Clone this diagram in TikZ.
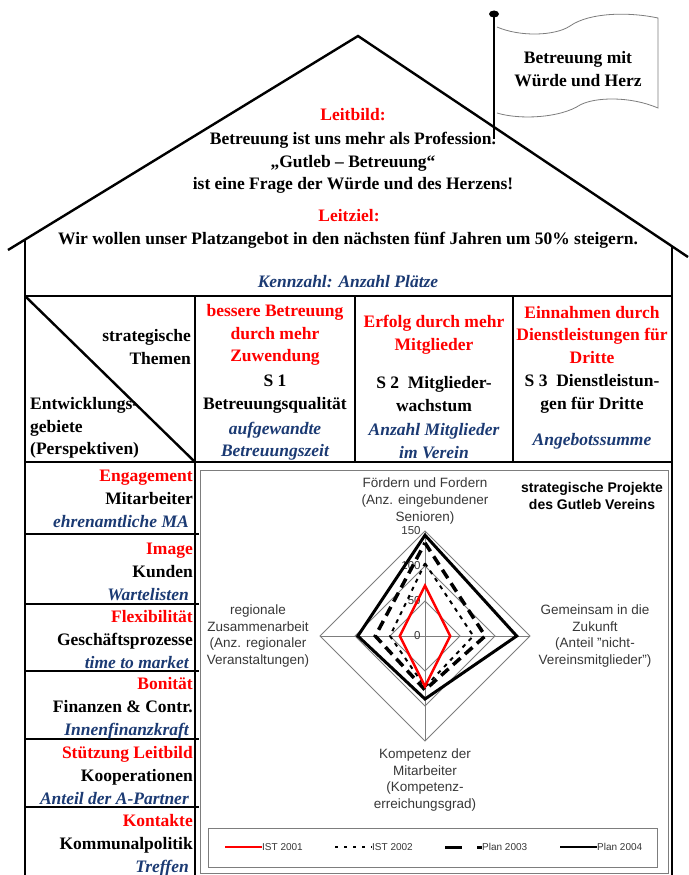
\documentclass[tikz,border=0pt]{standalone}
\usepackage{fontspec}
\setmainfont{Liberation Serif}
\setsansfont{Liberation Sans}
\usetikzlibrary{positioning}
\definecolor{rot}{RGB}{255,0,0}
\definecolor{blau}{RGB}{27,58,115}
\definecolor{grau}{RGB}{55,55,55}
\definecolor{netzgrau}{RGB}{125,125,125}
\tikzset{haus/.style={line width=2.4pt}}
\tikzset{trenn/.style={line width=1.6pt}}
\tikzset{fett/.style={inner sep=0pt,align=center,font=\bfseries\fontsize{17.5}{22.5}\selectfont}}
\tikzset{leit/.style={fett,text=rot}}
\tikzset{kenn/.style={fett,text=blau,font=\bfseries\itshape\fontsize{17.5}{22.5}\selectfont}}
\tikzset{achse/.style={inner sep=0pt,align=center,text=grau,font=\sffamily\fontsize{13.5}{16.5}\selectfont}}
\tikzset{leg/.style={inner sep=0pt,text=grau,font=\sffamily\fontsize{10}{12}\selectfont}}
\tikzset{netz/.style={draw=netzgrau,line width=0.8pt}}
\tikzset{ist1/.style={draw=rot,line width=2.5pt}}
\tikzset{ist2/.style={draw=black,line width=2pt,dash pattern=on 4pt off 5pt}}
\tikzset{plan3/.style={draw=black,line width=3.5pt,dash pattern=on 10pt off 6pt}}
\tikzset{plan4/.style={draw=black,line width=3pt}}

\begin{document}
\begin{tikzpicture}[x=1pt,y=-1pt]
\useasboundingbox (0,0) rectangle (688,875);

% Haus
\coordinate (traufeL) at (8,250);
\coordinate (first) at (358,36);
\coordinate (traufeR) at (688,257);
\coordinate (wandLo) at (25,240);
\coordinate (wandLu) at (25,876);
\coordinate (wandRo) at (672,246);
\coordinate (wandRu) at (672,876);
\coordinate (kopfLo) at (25,296);
\coordinate (kopfRo) at (672,296);
\coordinate (kopfLu) at (25,462);
\coordinate (kopfRu) at (672,462);
\coordinate (s1o) at (195,296);
\coordinate (s1m) at (195,462);
\coordinate (s1u) at (195,876);
\coordinate (s2o) at (355,296);
\coordinate (s2u) at (355,462);
\coordinate (s3o) at (513,296);
\coordinate (s3u) at (513,462);

\draw[haus] (traufeL) -- (first) -- (traufeR);
\draw[haus] (wandLo) -- (wandLu);
\draw[haus] (wandRo) -- (wandRu);
\draw[haus] (kopfLo) -- (kopfRo);
\draw[haus] (kopfLu) -- (kopfRu);
\draw[haus] (s1o) -- (s1u);
\draw[haus] (s2o) -- (s2u);
\draw[haus] (s3o) -- (s3u);
\draw[haus] (kopfLo) -- (s1m);
\foreach \y in {534,604,671,739,807}
  \draw[trenn] (25,\y) -- (199,\y);

% Fahne
\coordinate (mast) at (494,14);
\coordinate (mastfuss) at (494,139);
\draw[netz,fill=white] (497,27) .. controls (520,37) and (555,36) .. (570,26)
  .. controls (590,12) and (630,12) .. (658,18) -- (658,108)
  .. controls (630,96) and (595,97) .. (580,105)
  .. controls (560,118) and (520,120) .. (497,113);
\draw[line width=2pt] (mast) -- (mastfuss);
\fill (mast) ellipse (5 and 3.5);
\node[fett] (fahne) at (578,69) {Betreuung mit\\Würde und Herz};

% Dach
\node[leit,anchor=base] (leitbild) at (353,120) {Leitbild:};
\node[fett] (leitsatz) at (353,163) {Betreuung ist uns mehr als Profession.\\„Gutleb – Betreuung“\\ist eine Frage der Würde und des Herzens!};
\node[leit,anchor=base] (leitziel) at (349,221) {Leitziel:};
\node[fett,anchor=base] (zielsatz) at (348,244) {Wir wollen unser Platzangebot in den nächsten fünf Jahren um 50\% steigern.};
\node[kenn,anchor=base] (kennzahl) at (348,287) {Kennzahl: Anzahl Plätze};

% Kopfzeile
\node[fett,align=right,anchor=east] (themen) at (191,347) {strategische\\Themen};
\node[fett,align=left,anchor=west] (perspektiven) at (30,428) {Entwicklungs-\\gebiete\\(Perspektiven)};
\node[leit] (thema1) at (275,335) {bessere Betreuung\\durch mehr\\Zuwendung};
\node[fett] (strat1) at (275,394) {S 1\\Betreuungsqualität};
\node[kenn] (mass1) at (275,441) {aufgewandte\\Betreuungszeit};
\node[leit] (thema2) at (434,335) {Erfolg durch mehr\\Mitglieder};
\node[fett] (strat2) at (434,394) {S 2\ \ Mitglieder-\\wachstum};
\node[kenn] (mass2) at (434,441) {Anzahl Mitglieder\\im Verein};
\node[leit] (thema3) at (592,335) {Einnahmen durch\\Dienstleistungen für\\Dritte};
\node[fett] (strat3) at (592,394) {S 3\ \ Dienstleistun-\\gen für Dritte};
\node[kenn] (mass3) at (592,441) {Angebotssumme};

% Perspektiven
\foreach \y/\a/\b/\c [count=\i] in {475/Engagement/Mitarbeiter/ehrenamtliche MA,
    548/Image/Kunden/Wartelisten,
    616/Flexibilität/Geschäftsprozesse/time to market,
    683/Bonität/Finanzen \& Contr./Innenfinanzkraft,
    752/Stützung Leitbild/Kooperationen/Anteil der A-Partner,
    820/Kontakte/Kommunalpolitik/Treffen}{
  \node[leit,anchor=base east] (feld\i) at (193,\y+6) {\a};
  \node[fett,anchor=base east] (persp\i) at (193,\y+29.5) {\b};
  \node[kenn,anchor=base east] (kz\i) at (189,\y+52) {\c};
}

% Netzdiagramm
\draw[netz] (200,470) rectangle (668,873);
\draw[netz] (208,828) rectangle (657,867);
\begin{scope}[shift={(425,636)},x=0.7pt,y=-0.7pt]
\foreach \r in {50,100,150}
  \draw[netz] (0,-\r) -- (\r,0) -- (0,\r) -- (-\r,0) -- cycle;
\draw[netz] (0,-150) -- (0,150);
\draw[netz] (-150,0) -- (150,0);
\foreach \r in {0,50,100,150}
  \node[leg,font=\sffamily\fontsize{11.5}{13}\selectfont,anchor=east] (tick\r) at (-6,-\r) {\r};
\draw[ist2] (0,-104) -- (69,0) -- (0,73) -- (-50,0) -- cycle;
\draw[plan3] (0,-133) -- (86,0) -- (0,77) -- (-71,0) -- cycle;
\draw[plan4] (0,-144) -- (131,0) -- (0,90) -- (-96,0) -- cycle;
\draw[ist1] (0,-72) -- (36,0) -- (0,72) -- (-36,0) -- cycle;
\end{scope}
\node[achse] (foerdern) at (425,501) {Fördern und Fordern\\(Anz. eingebundener\\Senioren)};
\node[achse] (gemeinsam) at (595,636) {Gemeinsam in die\\Zukunft\\(Anteil \symbol{34}nicht-\\Vereinsmitglieder\symbol{34})};
\node[achse] (regional) at (258,636) {regionale\\Zusammenarbeit\\(Anz. regionaler\\Veranstaltungen)};
\node[achse] (kompetenz) at (425,780) {Kompetenz der\\Mitarbeiter\\(Kompetenz-\\erreichungsgrad)};
\node[achse,text=black,font=\sffamily\bfseries\fontsize{14}{16.5}\selectfont] (titel) at (592,496) {strategische Projekte\\des Gutleb Vereins};

% Legende
\node[leg,anchor=west] (leg1) at (262,847) {IST 2001};
\node[leg,anchor=west] (leg2) at (372,847) {IST 2002};
\node[leg,anchor=west] (leg3) at (482,847) {Plan 2003};
\node[leg,anchor=west] (leg4) at (597,847) {Plan 2004};
\coordinate (leg1s) at (225,847);
\coordinate (leg2s) at (335,847);
\coordinate (leg3s) at (445,847);
\coordinate (leg4s) at (560,847);
\draw[ist1,line width=2pt] (leg1s) -- (leg1.west);
\draw[ist2,line width=1.5pt,dash pattern=on 3pt off 6pt] (leg2s) -- (leg2.west);
\draw[plan3,line width=3pt,dash pattern=on 17pt off 15pt] (leg3s) -- (leg3.west);
\draw[plan4,line width=2.5pt] (leg4s) -- (leg4.west);
\end{tikzpicture}
\end{document}
